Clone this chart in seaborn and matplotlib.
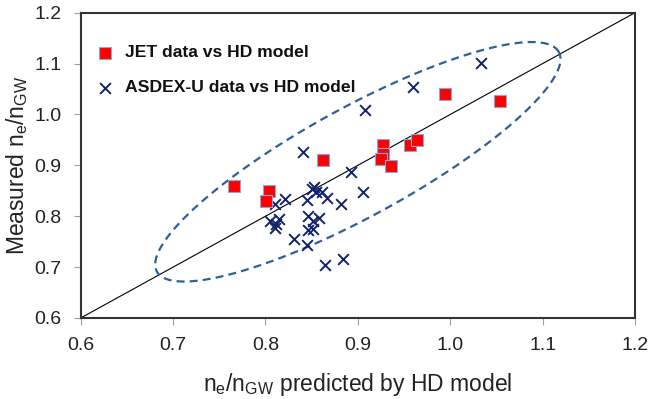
import numpy as np
import pandas as pd
import matplotlib
matplotlib.use("Agg")
import matplotlib.pyplot as plt
import seaborn as sns

# ---- data ----
jet_pred = [0.766, 0.804, 0.801, 0.862, 0.927, 0.927, 0.925, 0.936, 0.956, 0.964, 0.994, 1.054]
jet_meas = [0.860, 0.849, 0.829, 0.910, 0.940, 0.922, 0.912, 0.899, 0.940, 0.950, 1.040, 1.026]

asdex_pred = [1.033, 0.960, 0.908, 0.841, 0.893, 0.906, 0.853, 0.850, 0.855, 0.861,
              0.867, 0.882, 0.845, 0.821, 0.810, 0.805, 0.811, 0.815, 0.810, 0.831,
              0.846, 0.851, 0.858, 0.846, 0.851, 0.845, 0.864, 0.884]
asdex_meas = [1.101, 1.054, 1.009, 0.927, 0.887, 0.848, 0.858, 0.853, 0.848, 0.847,
              0.835, 0.825, 0.831, 0.834, 0.825, 0.791, 0.785, 0.795, 0.776, 0.755,
              0.800, 0.790, 0.796, 0.772, 0.775, 0.743, 0.705, 0.716]

series_labels = ["JET data vs HD model", "ASDEX-U data vs HD model"]
tick_values = [0.6, 0.7, 0.8, 0.9, 1.0, 1.1, 1.2]
tick_labels = ["0.6", "0.7", "0.8", "0.9", "1.0", "1.1", "1.2"]

# ellipse (annotation) parameters
ell_center = (0.900, 0.907)
ell_a_px, ell_b_px, ell_angle_deg = 229.0, 54.5, 28.65

jet_df = pd.DataFrame({"pred": jet_pred, "meas": jet_meas})
asdex_df = pd.DataFrame({"pred": asdex_pred, "meas": asdex_meas})

sns.set_theme(style="white")
plt.rcParams["font.family"] = ["Liberation Sans", "DejaVu Sans"]
plt.rcParams["mathtext.fontset"] = "custom"
plt.rcParams["mathtext.rm"] = "Liberation Sans"
plt.rcParams["mathtext.it"] = "Liberation Sans"

W, H = 653, 399
fig = plt.figure(figsize=(W / 100, H / 100), dpi=100)
ax_l, ax_r, ax_t, ax_b = 80.7, 635.0, 12.7, 318.0
ax = fig.add_axes([ax_l / W, 1 - ax_b / H, (ax_r - ax_l) / W, (ax_b - ax_t) / H])

ax.set_xlim(0.6, 1.2)
ax.set_ylim(0.6, 1.2)

# diagonal reference line
ax.plot([0.6, 1.2], [0.6, 1.2], color="black", lw=0.8, zorder=1)

# dashed ellipse
px_w = ax_r - ax_l
px_h = ax_b - ax_t
sx = 0.6 / px_w
sy = 0.6 / px_h
t = np.linspace(0, 2 * np.pi, 400)
th = np.deg2rad(ell_angle_deg)
dxp = ell_a_px * np.cos(t) * np.cos(th) - ell_b_px * np.sin(t) * np.sin(th)
dyp = ell_a_px * np.cos(t) * np.sin(th) + ell_b_px * np.sin(t) * np.cos(th)
ax.plot(ell_center[0] + dxp * sx, ell_center[1] + dyp * sy, color="#2f5f98",
        lw=1.6, linestyle=(0, (3.6, 2.3)), zorder=2)

sns.scatterplot(data=asdex_df, x="pred", y="meas", ax=ax, marker="x",
                color="#13236b", s=60, linewidth=1.4, zorder=3,
                label=series_labels[1])
sns.scatterplot(data=jet_df, x="pred", y="meas", ax=ax, marker="s",
                color="#ff0000", edgecolor="#8aa6d6", s=70, linewidth=0.8,
                zorder=4, label=series_labels[0])

handles, labels = ax.get_legend_handles_labels()
order = [labels.index(series_labels[0]), labels.index(series_labels[1])]
leg = ax.legend([handles[i] for i in order], [labels[i] for i in order],
                loc="upper left", bbox_to_anchor=(0.012, 0.917), frameon=False,
                prop={"weight": "bold", "size": 12.6}, handletextpad=0.55,
                labelspacing=1.12, handlelength=1.2, borderaxespad=0)
for txt in leg.get_texts():
    txt.set_color("#111111")

ax.set_xticks(tick_values)
ax.set_xticklabels(tick_labels, fontsize=14)
ax.set_yticks(tick_values)
ax.set_yticklabels(tick_labels, fontsize=14)
ax.tick_params(axis="both", which="major", bottom=True, left=True,
               direction="out", length=5, width=0.8, color="#a0a0a0",
               labelcolor="#222222")
ax.tick_params(axis="x", pad=9)
ax.tick_params(axis="y", pad=9)

for sp in ax.spines.values():
    sp.set_visible(True)
    sp.set_color("#333333")
    sp.set_linewidth(1.5)

ax.set_xlabel(r"n$_\mathregular{e}$/n$_\mathregular{GW}$ predicted by HD model",
              fontsize=16.5, labelpad=12, color="#222222")
ax.set_ylabel(r"Measured n$_\mathregular{e}$/n$_\mathregular{GW}$",
              fontsize=16.5, labelpad=3, color="#222222")

fig.savefig("out.png", dpi=100)
